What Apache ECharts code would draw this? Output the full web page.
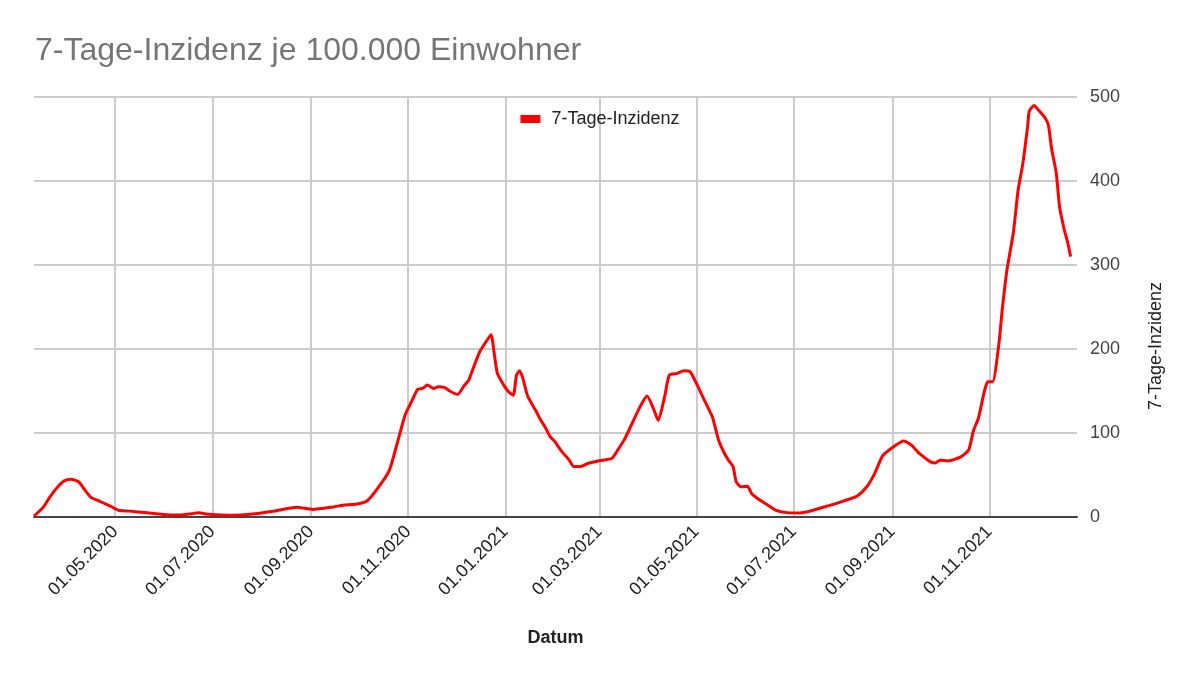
<!DOCTYPE html>
<html>
<head>
<meta charset="utf-8">
<script src="https://cdn.jsdelivr.net/npm/echarts@6/dist/echarts.min.js"></script>
<style>
  html, body { margin: 0; padding: 0; background: #fff; }
  #chart { width: 1200px; height: 683px; }
</style>
</head>
<body>
<div id="chart"></div>
<script>
// 7-Tage-Inzidenz
const dates = [
  '2020-03-11', '2020-03-17', '2020-03-21', '2020-03-26', '2020-03-30', '2020-04-03', '2020-04-08',
  '2020-04-12', '2020-04-16', '2020-04-21', '2020-04-28', '2020-05-03', '2020-05-10', '2020-05-21',
  '2020-05-31', '2020-06-11', '2020-06-18', '2020-06-22', '2020-06-29', '2020-07-14', '2020-07-25',
  '2020-08-08', '2020-08-23', '2020-09-02', '2020-09-15', '2020-09-21', '2020-09-30', '2020-10-06',
  '2020-10-12', '2020-10-20', '2020-10-25', '2020-10-30', '2020-11-03', '2020-11-07', '2020-11-10',
  '2020-11-13', '2020-11-17', '2020-11-20', '2020-11-24', '2020-11-27', '2020-12-02', '2020-12-06',
  '2020-12-09', '2020-12-13', '2020-12-16', '2020-12-20', '2020-12-23', '2020-12-25', '2020-12-27',
  '2020-12-31', '2021-01-03', '2021-01-06', '2021-01-08', '2021-01-10', '2021-01-12', '2021-01-15',
  '2021-01-20', '2021-01-23', '2021-01-26', '2021-01-29', '2021-02-01', '2021-02-05', '2021-02-10',
  '2021-02-13', '2021-02-18', '2021-02-22', '2021-03-01', '2021-03-09', '2021-03-13', '2021-03-17',
  '2021-03-21', '2021-03-26', '2021-03-31', '2021-04-04', '2021-04-07', '2021-04-11', '2021-04-14',
  '2021-04-19', '2021-04-23', '2021-04-27', '2021-05-01', '2021-05-05', '2021-05-11', '2021-05-15',
  '2021-05-18', '2021-05-21', '2021-05-24', '2021-05-26', '2021-05-29', '2021-06-02', '2021-06-05',
  '2021-06-10', '2021-06-15', '2021-06-20', '2021-06-27', '2021-07-05', '2021-07-11', '2021-07-18',
  '2021-07-26', '2021-08-03', '2021-08-10', '2021-08-16', '2021-08-21', '2021-08-26', '2021-09-02',
  '2021-09-08', '2021-09-13', '2021-09-18', '2021-09-25', '2021-09-28', '2021-10-01', '2021-10-06',
  '2021-10-14', '2021-10-19', '2021-10-22', '2021-10-25', '2021-10-29', '2021-10-31', '2021-11-03',
  '2021-11-07', '2021-11-09', '2021-11-12', '2021-11-16', '2021-11-19', '2021-11-22', '2021-11-25',
  '2021-11-26', '2021-11-29', '2021-12-02', '2021-12-06', '2021-12-08', '2021-12-10', '2021-12-13',
  '2021-12-15', '2021-12-18', '2021-12-20', '2021-12-22'
]
const incidence = [
  1, 12, 24, 36, 43, 45, 42,
  32, 23, 19, 13, 8, 7, 5,
  3, 2.4, 4, 5, 3.2, 2, 3.2,
  6.8, 11.6, 9, 12, 14, 15.5, 19,
  32, 55, 87, 121, 137, 152, 153,
  157, 153, 155, 154, 150, 146, 156,
  163, 183, 197, 209, 217, 195, 171,
  157, 149, 145, 169, 174, 165, 144,
  127, 116, 107, 96, 90, 79, 68,
  60, 60.5, 64, 67, 70, 81, 93,
  109, 129, 144, 129, 115, 143, 169,
  171, 174, 173, 159, 143, 119, 91,
  78, 68, 60, 42, 36, 36.6, 27,
  20, 14, 8, 5.2, 4.8, 6.8, 10.7,
  15, 20, 25, 36, 52, 73, 84,
  90.6, 85.5, 75.6, 65.6, 64.4, 67.6, 66.8,
  71.5, 80, 103, 117, 151, 161, 161,
  207, 246, 294, 338, 389, 421, 465,
  483, 490, 484, 475, 467, 439, 409,
  370, 342, 328, 310
]
const xMin = '2020-03-11'
const xMax = '2021-12-26'
const yTicks = [0, 100, 200, 300, 400, 500]

const FONT = '"Liberation Sans", Arial, sans-serif'
const pad = (n) => String(n).padStart(2, '0')

const chart = echarts.init(document.getElementById('chart'))
chart.setOption({
  animation: false,
  title: {
    text: '7-Tage-Inzidenz je 100.000 Einwohner',
    left: 30,
    top: 30,
    textStyle: { color: '#757575', fontSize: 32, fontWeight: 'normal', fontFamily: FONT },
  },
  legend: {
    left: 'center',
    top: 105,
    data: [{ name: '7-Tage-Inzidenz', icon: 'rect' }],
    itemWidth: 20,
    itemHeight: 8,
    textStyle: { color: '#222', fontSize: 18, fontFamily: FONT, padding: [0, 0, 0, 6] },
  },
  grid: { left: 34, right: 123, top: 97, bottom: 166 },
  xAxis: {
    type: 'time',
    min: xMin,
    max: xMax,
    splitNumber: 10,
    name: 'Datum',
    nameLocation: 'middle',
    nameGap: 112,
    nameTextStyle: { color: '#222', fontSize: 18, fontWeight: 'bold', fontFamily: FONT },
    axisLine: { lineStyle: { color: '#444', width: 2 } },
    axisTick: { show: false },
    splitLine: {
      show: true,
      showMinLine: false,
      showMaxLine: false,
      lineStyle: { color: '#cccccc', width: 2 },
    },
    axisLabel: {
      rotate: 45,
      margin: 12,
      color: '#222',
      fontSize: 18,
      fontFamily: FONT,
      showMinLabel: false,
      showMaxLabel: false,
      formatter: (v) => {
        const d = new Date(v)
        return pad(d.getDate()) + '.' + pad(d.getMonth() + 1) + '.' + d.getFullYear()
      },
    },
  },
  yAxis: {
    type: 'value',
    position: 'right',
    min: yTicks[0],
    max: yTicks[yTicks.length - 1],
    interval: 100,
    name: '7-Tage-Inzidenz',
    nameLocation: 'middle',
    nameRotate: 90,
    nameGap: 70,
    nameTextStyle: { color: '#222', fontSize: 18, fontFamily: FONT, padding: [0, 78, 0, 0] },
    axisLine: { show: false },
    axisTick: { show: false },
    splitLine: { lineStyle: { color: '#cccccc', width: 2 } },
    axisLabel: { margin: 13, color: '#444', fontSize: 18, fontFamily: FONT },
  },
  series: [
    {
      name: '7-Tage-Inzidenz',
      type: 'line',
      data: dates.map((d, i) => [d, incidence[i]]),
      showSymbol: false,
      smooth: 0.2,
      lineStyle: { color: '#ff0000', width: 3 },
      itemStyle: { color: '#ff0000' },
    },
  ],
})
</script>
</body>
</html>
